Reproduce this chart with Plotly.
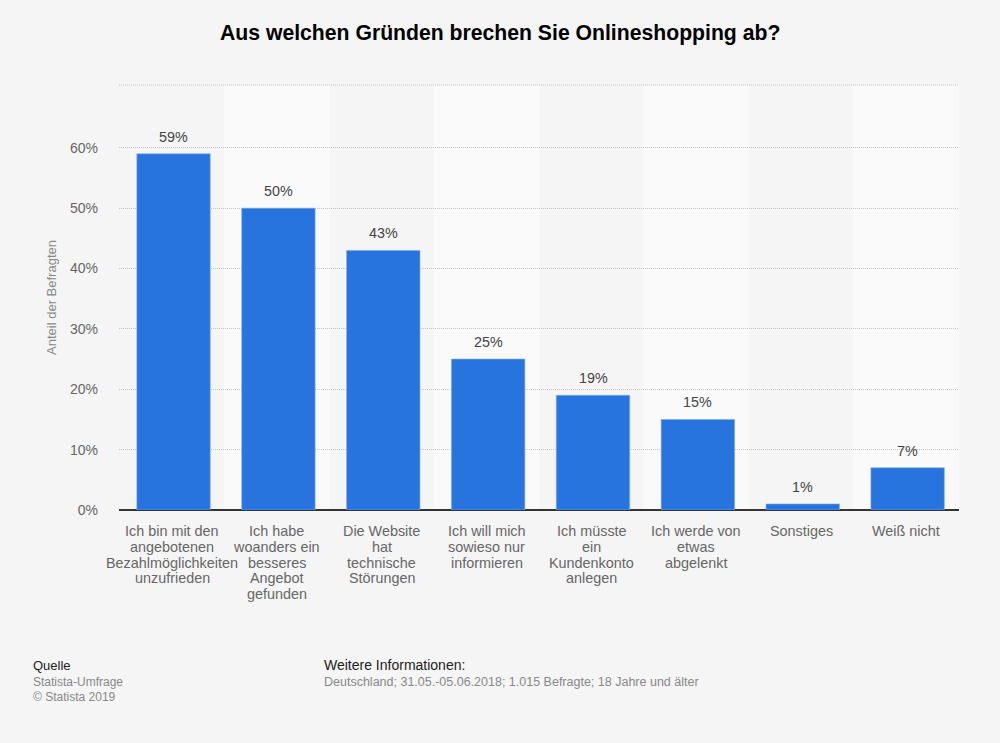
import plotly.graph_objects as go

# Werte
categories = [
    "Ich bin mit den<br>angebotenen<br>Bezahlmöglichkeiten<br>unzufrieden",
    "Ich habe<br>woanders ein<br>besseres<br>Angebot<br>gefunden",
    "Die Website<br>hat<br>technische<br>Störungen",
    "Ich will mich<br>sowieso nur<br>informieren",
    "Ich müsste<br>ein<br>Kundenkonto<br>anlegen",
    "Ich werde von<br>etwas<br>abgelenkt",
    "Sonstiges",
    "Weiß nicht",
]
values = [59, 50, 43, 25, 19, 15, 1, 7]
y_ticks = [0, 10, 20, 30, 40, 50, 60]
y_tick_labels = ["0%", "10%", "20%", "30%", "40%", "50%", "60%"]

FONT = "Liberation Sans"
BG = "#f5f5f5"
BAND = "#fafafa"
BLUE = "#2874df"
GRID = "#c4c4c4"
W, H = 1000, 743
L, R, T, B = 119, 41, 85, 233


def px_x(px):
    return (px - L) / (W - L - R)


def px_y(py):
    return (H - B - py) / (H - T - B)


fig = go.Figure()

positions = list(range(len(categories)))
fig.add_trace(go.Bar(
    x=positions,
    y=values,
    width=0.7,
    marker=dict(color=BLUE, line=dict(color="#7fabea", width=0.6)),
    hoverinfo="skip",
))

# helle Streifen hinter jeder zweiten Kategorie
for i in positions[1::2]:
    fig.add_shape(type="rect", xref="x", yref="paper", x0=i - 0.52, x1=i + 0.49, y0=0, y1=1,
                  fillcolor=BAND, line_width=0, layer="below")

# obere Rasterlinie
fig.add_shape(type="line", xref="paper", yref="paper", x0=0, x1=1, y0=1, y1=1,
              line=dict(color=GRID, width=1, dash="1px,1px"), layer="below")

# Werte ueber den Balken
for i, v in zip(positions, values):
    fig.add_annotation(x=i, y=v, xref="x", yref="y", text=f"{v}%", showarrow=False,
                       yanchor="bottom", yshift=7, font=dict(family=FONT, size=14.3, color="#444444"))

# Kategorien zeilenweise, der Zeilenabstand ist enger als bei Plotly-Ticklabels
for i, label in zip(positions, categories):
    for n, line in enumerate(label.split("<br>")):
        fig.add_annotation(x=i, y=0, xref="x", yref="paper", text=line, showarrow=False,
                           yanchor="middle", xshift=-1.5, yshift=-21 - n * 15.8,
                           font=dict(family=FONT, size=14.4, color="#666666"))

# Kopf und Fusszeile
fig.add_annotation(x=px_x(500), y=px_y(33), xref="paper", yref="paper", text="<b>Aus welchen Gründen brechen Sie Onlineshopping ab?</b>",
                   showarrow=False, yanchor="middle", font=dict(family=FONT, size=21.2, color="#000000"))
footer = [
    (31, 665, "Quelle", 13, "#222222"),
    (31, 682, "Statista-Umfrage", 12, "#888888"),
    (31, 697, "© Statista 2019", 12, "#888888"),
    (322, 665, "Weitere Informationen:", 14, "#222222"),
    (322, 682, "Deutschland; 31.05.-05.06.2018; 1.015 Befragte; 18 Jahre und älter", 12.5, "#888888"),
]
for x_px, y_px, text, size, color in footer:
    fig.add_annotation(x=px_x(x_px), y=px_y(y_px), xref="paper", yref="paper", text=text, showarrow=False,
                       xanchor="left", yanchor="middle", font=dict(family=FONT, size=size, color=color))

fig.update_layout(
    width=W,
    height=H,
    margin=dict(l=L, r=R, t=T, b=B, autoexpand=False),
    paper_bgcolor=BG,
    plot_bgcolor=BG,
    showlegend=False,
    bargap=0.3,
    font=dict(family=FONT),
    xaxis=dict(
        range=[-0.52, len(categories) - 0.51],
        showticklabels=False,
        showgrid=False,
        ticks="",
        zeroline=False,
        showline=False,
    ),
    yaxis=dict(
        range=[0, 70.4],
        tickvals=y_ticks,
        ticktext=y_tick_labels,
        tickfont=dict(family=FONT, size=14, color="#666666"),
        ticklabelstandoff=20,
        ticks="",
        showgrid=True,
        gridcolor=GRID,
        griddash="1px,1px",
        gridwidth=1,
        zeroline=True,
        zerolinecolor="#333333",
        zerolinewidth=1.5,
        title=dict(text="Anteil der Befragten", font=dict(family=FONT, size=13, color="#888888"), standoff=10),
    ),
)

fig.write_html(
    "out.html",
    config=dict(displayModeBar=False),
    post_script="document.body.style.margin='0';document.body.style.overflow='hidden';document.body.style.background='#f5f5f5';",
)
